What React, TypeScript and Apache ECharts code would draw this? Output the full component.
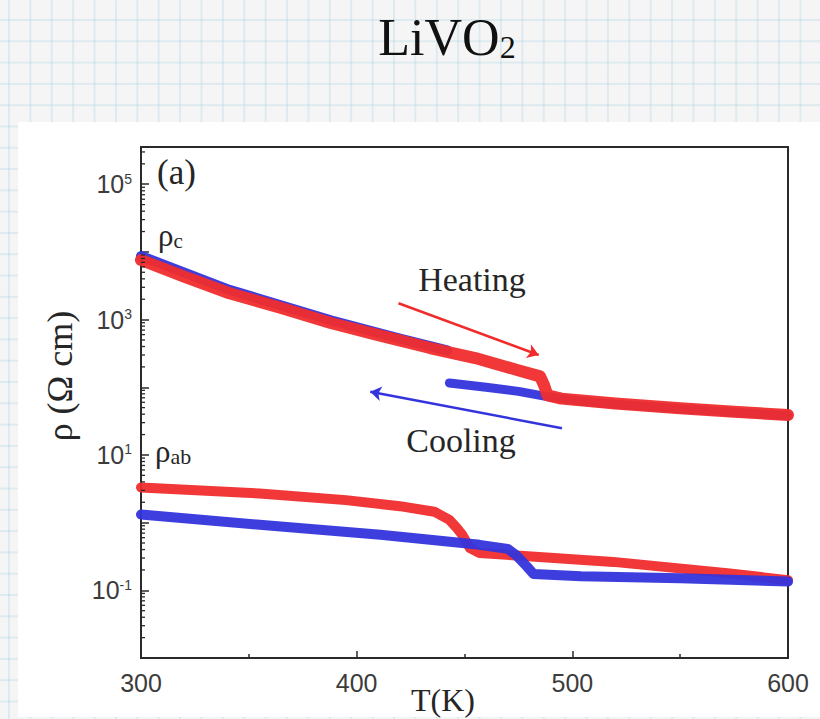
import React, { useEffect, useRef } from 'react';
import * as echarts from 'echarts';

// ---- data (T in K, resistivity in Ω cm) ----
const rhoC_heat_T = [300, 320, 341, 365, 388, 410, 434, 455, 474, 485, 487, 488.5, 495, 520, 550, 575, 600];
const rhoC_heat = [7600, 4300, 2450, 1480, 890, 590, 380, 270, 182, 145, 105, 76, 68, 57.5, 49, 43.6, 38.9];

const rhoC_coolUp_T = [300, 341, 388, 420, 442];
const rhoC_coolUp = [8710, 2750, 977, 525, 350];

const rhoC_coolLow_T = [443, 460, 475, 487, 500, 520, 550, 575, 600];
const rhoC_coolLow = [116, 100, 87, 74, 64.5, 56, 48, 42.7, 38];

const rhoAB_heat_T = [300, 355, 395, 420, 436, 443, 446.5, 449, 452.5, 457, 476, 519, 573, 600];
const rhoAB_heat = [3.31, 2.69, 2.15, 1.75, 1.45, 1.1, 0.83, 0.66, 0.42, 0.355, 0.324, 0.263, 0.178, 0.141];

const rhoAB_cool_T = [300, 355, 411, 434, 457, 470, 474, 479, 482, 504, 550, 600];
const rhoAB_cool = [1.32, 0.93, 0.66, 0.56, 0.47, 0.41, 0.33, 0.224, 0.174, 0.162, 0.151, 0.135];

// annotation arrows [T, rho]
const heatingArrow = [[419.4, 1742], [484.4, 300]];
const coolingArrow = [[495.2, 24.8], [406.3, 86]];

const xTicks = [300, 400, 500, 600];
const yMin = 0.01;
const yMax = Math.pow(10, 5.55);

const RED = '#f02c2c';
const BLUE = '#3434dc';
const INK = '#262626';
const SERIF = '"Liberation Serif", "Times New Roman", serif';
const SANS = '"Liberation Sans", Arial, sans-serif';

const pair = (t: number[], v: number[]) => t.map((x, i) => [x, v[i]]);

const minorTickVals: number[] = [];
for (let n = -2; n <= 5; n++) {
  for (let k = 2; k <= 9; k++) {
    const v = k * Math.pow(10, n);
    if (v <= yMax) minorTickVals.push(v);
  }
}

function lineSeries(name: string, data: number[][], color: string, width: number, z: number) {
  return {
    name,
    type: 'line',
    data,
    showSymbol: false,
    symbol: 'none',
    z,
    lineStyle: { color, width, cap: 'round', join: 'round', opacity: 0.95 },
  };
}

export default function App() {
  const ref = useRef<HTMLDivElement>(null);
  useEffect(() => {
    document.body.style.margin = '0';
    const chart = echarts.init(ref.current!, null, { renderer: 'svg' });
    const option: any = {
      animation: false,
      backgroundColor: 'transparent',
      grid: {
        left: 141, right: 32, top: 147, bottom: 61,
        show: true, borderColor: '#2a2a2a', borderWidth: 2, backgroundColor: '#fff',
      },
      xAxis: {
        type: 'value', min: xTicks[0], max: xTicks[xTicks.length - 1], interval: 100,
        splitLine: { show: false },
        axisLine: { lineStyle: { color: '#2a2a2a', width: 2 } },
        axisTick: { inside: true, length: 7, lineStyle: { color: '#2a2a2a', width: 1.5 } },
        minorTick: { show: true, splitNumber: 2, length: 4, lineStyle: { color: '#2a2a2a', width: 1.5 } },
        axisLabel: { color: '#3c3c3c', fontSize: 25, fontFamily: SANS, margin: 12 },
      },
      yAxis: {
        type: 'log', logBase: 10, min: yMin, max: yMax,
        splitLine: { show: false },
        axisLine: { lineStyle: { color: '#2a2a2a', width: 2 } },
        axisTick: { inside: true, length: 8, lineStyle: { color: '#2a2a2a', width: 1.5 } },
        axisLabel: {
          margin: 9,
          color: '#3c3c3c',
          fontFamily: SANS,
          formatter: (v: number) => {
            const l = Math.log10(v);
            const e = Math.round(l);
            if (Math.abs(l - e) > 1e-6 || e % 2 === 0) return '';
            return `{b|10}{p|${e}}`;
          },
          rich: {
            b: { fontSize: 25, fontFamily: SANS, color: '#3c3c3c' },
            p: { fontSize: 14, fontFamily: SANS, color: '#3c3c3c', verticalAlign: 'top' },
          },
        },
      },
      series: [
        {
          type: 'custom',
          silent: true,
          clip: false,
          z: 6,
          data: minorTickVals.map((v) => [xTicks[0], v]),
          renderItem: (_p: any, api: any) => {
            const c = api.coord([api.value(0), api.value(1)]);
            return {
              type: 'line',
              shape: { x1: c[0], y1: c[1], x2: c[0] + 4, y2: c[1] },
              style: { stroke: '#2a2a2a', lineWidth: 1.3 },
            };
          },
        },
        lineSeries('ρc cooling (upper)', pair(rhoC_coolUp_T, rhoC_coolUp), BLUE, 10, 2),
        lineSeries('ρc cooling (lower)', pair(rhoC_coolLow_T, rhoC_coolLow), BLUE, 9, 2),
        lineSeries('ρc heating', pair(rhoC_heat_T, rhoC_heat), RED, 12, 3),
        lineSeries('ρab heating', pair(rhoAB_heat_T, rhoAB_heat), RED, 10, 2),
        lineSeries('ρab cooling', pair(rhoAB_cool_T, rhoAB_cool), BLUE, 10, 3),
        {
          type: 'lines', coordinateSystem: 'cartesian2d', z: 4,
          symbol: ['none', 'arrow'], symbolSize: 11,
          lineStyle: { color: RED, width: 2.5, opacity: 1 },
          data: [{ coords: heatingArrow }],
        },
        {
          type: 'lines', coordinateSystem: 'cartesian2d', z: 4,
          symbol: ['none', 'arrow'], symbolSize: 11,
          lineStyle: { color: BLUE, width: 2.5, opacity: 1 },
          data: [{ coords: coolingArrow }],
        },
      ],
      graphic: [
        { type: 'rect', z: -100, shape: { x: 18, y: 122, width: 802, height: 595 }, style: { fill: '#ffffff' } },
        {
          type: 'text', x: 447, y: 37,
          style: {
            text: '{m|LiVO}{s|2}', align: 'center', verticalAlign: 'middle',
            rich: {
              m: { fontSize: 52, fontFamily: SERIF, fill: '#111' },
              s: { fontSize: 32, fontFamily: SERIF, fill: '#111', verticalAlign: 'bottom' },
            },
          },
        },
        {
          type: 'text', x: 157, y: 155, z: 10,
          style: { text: '(a)', font: `35px ${SERIF}`, fill: INK },
        },
        {
          type: 'text', x: 158, y: 220, z: 10,
          style: {
            text: '{r|ρ}{s|c}',
            rich: {
              r: { fontSize: 31, fontFamily: SERIF, fill: INK },
              s: { fontSize: 21, fontFamily: SERIF, fill: INK, verticalAlign: 'bottom' },
            },
          },
        },
        {
          type: 'text', x: 155, y: 436, z: 10,
          style: {
            text: '{r|ρ}{s|ab}',
            rich: {
              r: { fontSize: 31, fontFamily: SERIF, fill: INK },
              s: { fontSize: 22, fontFamily: SERIF, fill: INK, verticalAlign: 'bottom' },
            },
          },
        },
        {
          type: 'text', x: 472, y: 279, z: 10,
          style: { text: 'Heating', font: `34px ${SERIF}`, fill: INK, align: 'center', verticalAlign: 'middle' },
        },
        {
          type: 'text', x: 461, y: 440, z: 10,
          style: { text: 'Cooling', font: `34px ${SERIF}`, fill: INK, align: 'center', verticalAlign: 'middle' },
        },
        {
          type: 'text', x: 443, y: 684, z: 10,
          style: { text: 'T(K)', font: `32px ${SERIF}`, fill: INK, align: 'center', verticalAlign: 'top' },
        },
        {
          type: 'text', x: 60, y: 376, rotation: Math.PI / 2, z: 10,
          style: { text: 'ρ (Ω cm)', font: `36px ${SERIF}`, fill: INK, align: 'center', verticalAlign: 'middle' },
        },
      ],
    };
    chart.setOption(option);
    return () => chart.dispose();
  }, []);

  return (
    <div
      style={{
        position: 'absolute', left: 0, top: 0, width: 820, height: 719, overflow: 'hidden',
        backgroundColor: '#f5f5f5',
        backgroundImage:
          'linear-gradient(to right, rgba(170,210,228,0.32) 1.5px, transparent 1.5px), linear-gradient(to bottom, rgba(170,210,228,0.32) 1.5px, transparent 1.5px)',
        backgroundSize: '21.4px 21.3px',
        backgroundPosition: '8px 19px',
      }}
    >
      <div ref={ref} style={{ width: 820, height: 719 }} />
    </div>
  );
}
